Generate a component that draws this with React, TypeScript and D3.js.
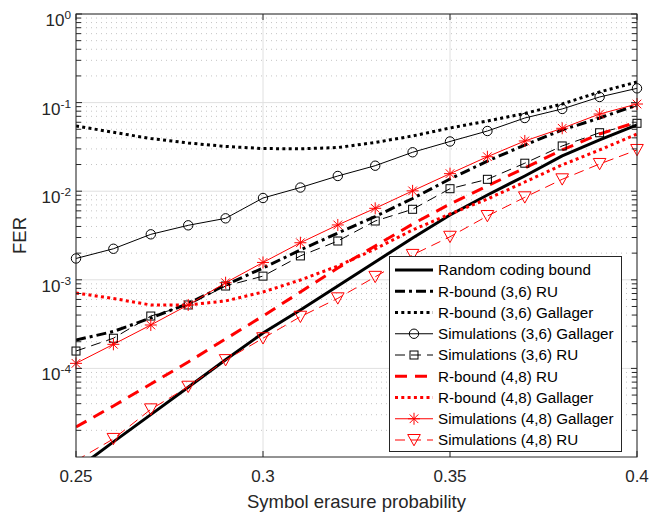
import React from 'react';
import * as d3 from 'd3';

// ---------- data ----------
const xValues = [0.25, 0.26, 0.27, 0.28, 0.29, 0.3, 0.31, 0.32, 0.33, 0.34, 0.35, 0.36, 0.37, 0.38, 0.39, 0.4];

const randomCodingBound = [7.2e-6, 1.48e-5, 3.01e-5, 6.13e-5, 1.25e-4, 2.51e-4, 4.56e-4, 8.5e-4, 1.59e-3, 2.96e-3, 5.38e-3, 9.06e-3, 0.01485, 0.025, 0.0379, 0.0559];
const rBound36RU = [2.09e-4, 2.61e-4, 3.71e-4, 5.4e-4, 8.73e-4, 1.36e-3, 2.17e-3, 3.37e-3, 5.18e-3, 8.27e-3, 0.01374, 0.0219, 0.0332, 0.0491, 0.067, 0.094];
const rBound36Gallager = [0.0545, 0.0462, 0.0393, 0.035, 0.032, 0.0303, 0.0301, 0.0311, 0.0355, 0.042, 0.0517, 0.062, 0.0754, 0.0964, 0.1318, 0.171];
const sim36Gallager = [1.74e-3, 2.24e-3, 3.26e-3, 4.12e-3, 4.94e-3, 8.38e-3, 0.011, 0.01485, 0.0194, 0.0275, 0.0364, 0.0478, 0.067, 0.0848, 0.1157, 0.1449];
const sim36RU = [1.57e-4, 2.19e-4, 3.9e-4, 5.2e-4, 8.51e-4, 1.1e-3, 1.86e-3, 2.74e-3, 4.61e-3, 6.25e-3, 0.01067, 0.01362, 0.0207, 0.0324, 0.0457, 0.0584];
const rBound48RU = [2.18e-5, 3.77e-5, 6.67e-5, 1.18e-4, 2.15e-4, 3.9e-4, 7.28e-4, 1.36e-3, 2.41e-3, 4.26e-3, 7.17e-3, 0.01146, 0.0183, 0.0292, 0.0442, 0.0604];
const rBound48Gallager = [7.1e-4, 6.15e-4, 5.2e-4, 5.2e-4, 5.77e-4, 7.28e-4, 9.95e-4, 1.43e-3, 2.23e-3, 3.65e-3, 5.53e-3, 8.16e-3, 0.0127, 0.0198, 0.0292, 0.0442];
const sim48Gallager = [1.14e-4, 1.87e-4, 3.09e-4, 5.2e-4, 9.27e-4, 1.57e-3, 2.62e-3, 4.16e-3, 6.41e-3, 0.01009, 0.01578, 0.0245, 0.0369, 0.0513, 0.0743, 0.0964];
const sim48RU = [9.1e-6, 1.6e-5, 3.45e-5, 6.21e-5, 1.24e-4, 2.19e-4, 3.83e-4, 6.18e-4, 1.08e-3, 1.91e-3, 3.06e-3, 5.25e-3, 8.53e-3, 0.01362, 0.0203, 0.0292];

const seriesNames = [
  'Random coding bound',
  'R-bound (3,6) RU',
  'R-bound (3,6) Gallager',
  'Simulations (3,6) Gallager',
  'Simulations (3,6) RU',
  'R-bound (4,8) RU',
  'R-bound (4,8) Gallager',
  'Simulations (4,8) Gallager',
  'Simulations (4,8) RU',
];

const xTicks = [0.25, 0.3, 0.35, 0.4];
const xTickLabels = ['0.25', '0.3', '0.35', '0.4'];
const yTickExponents = [-4, -3, -2, -1, 0];
const xLabel = 'Symbol erasure probability';
const yLabel = 'FER';

// ---------- styles ----------
type Marker = 'none' | 'circle' | 'square' | 'star' | 'triangle';
interface Style { color: string; width: number; dash: string | null; marker: Marker; }

const styles: Style[] = [
  { color: '#000000', width: 3, dash: null, marker: 'none' },
  { color: '#000000', width: 3, dash: '10,4,3,4', marker: 'none' },
  { color: '#000000', width: 3, dash: '3,3.3', marker: 'none' },
  { color: '#000000', width: 1, dash: null, marker: 'circle' },
  { color: '#000000', width: 1, dash: '10,6', marker: 'square' },
  { color: '#ff0000', width: 3, dash: '12,8', marker: 'none' },
  { color: '#ff0000', width: 3, dash: '3,3.3', marker: 'none' },
  { color: '#ff0000', width: 1, dash: null, marker: 'star' },
  { color: '#ff0000', width: 1, dash: '10,6', marker: 'triangle' },
];

const seriesValues = [randomCodingBound, rBound36RU, rBound36Gallager, sim36Gallager, sim36RU, rBound48RU, rBound48Gallager, sim48Gallager, sim48RU];

const TEXT = '#262626';
const FONT = '"Liberation Sans", Arial, Helvetica, sans-serif';

function MarkerShape({ type, cx, cy, color }: { type: Marker; cx: number; cy: number; color: string }) {
  const sw = 1;
  if (type === 'circle') return <circle cx={cx} cy={cy} r={4.7} fill="none" stroke={color} strokeWidth={sw} />;
  if (type === 'square') return <rect x={cx - 4} y={cy - 4} width={8} height={8} fill="none" stroke={color} strokeWidth={sw} />;
  if (type === 'triangle') {
    const p = `${cx - 6.3},${cy - 5.5} ${cx + 6.3},${cy - 5.5} ${cx},${cy + 5.8}`;
    return <polygon points={p} fill="none" stroke={color} strokeWidth={sw} />;
  }
  if (type === 'star') {
    const r = 6, d = r * 0.72;
    return (
      <g stroke={color} strokeWidth={sw}>
        <line x1={cx} y1={cy - r} x2={cx} y2={cy + r} />
        <line x1={cx - r} y1={cy} x2={cx + r} y2={cy} />
        <line x1={cx - d} y1={cy - d} x2={cx + d} y2={cy + d} />
        <line x1={cx - d} y1={cy + d} x2={cx + d} y2={cy - d} />
      </g>
    );
  }
  return null;
}

export default function App() {
  const W = 649, H = 512;
  const L = 76, R = 637, T = 14, B = 457;
  const x = d3.scaleLinear().domain([0.25, 0.4]).range([L, R]);
  const y = d3.scaleLog().domain([1e-5, 1]).range([B, T]);

  const minorVals: number[] = [];
  for (let e = -5; e < 0; e++) for (let k = 2; k <= 9; k++) minorVals.push(k * Math.pow(10, e));

  const line = d3.line<number>().x((_, i) => x(xValues[i])).y((d) => y(d));

  const legendX = 389.5, legendY = 256.5, legendW = 232, legendH = 195;
  const rowH = 21.25, row0 = 270;
  const sx1 = 395, sx2 = 433, tx = 438;

  return (
    <svg width={W} height={H} style={{ position: 'absolute', left: 0, top: 0, background: '#fff' }} fontFamily={FONT}>
      <rect x={0} y={0} width={W} height={H} fill="#fff" />
      <defs>
        <clipPath id="plotClip"><rect x={L} y={T} width={R - L} height={B - T} /></clipPath>
      </defs>
      {/* minor grid */}
      {minorVals.map((v, i) => (
        <line key={'mg' + i} x1={L} x2={R} y1={y(v)} y2={y(v)} stroke="#c4c4c4" strokeWidth={1} strokeDasharray="1,4" />
      ))}
      {/* major grid */}
      {yTickExponents.map((e) => (
        <line key={'yg' + e} x1={L} x2={R} y1={y(Math.pow(10, e))} y2={y(Math.pow(10, e))} stroke="#e0e0e0" strokeWidth={1} />
      ))}
      {xTicks.map((t) => (
        <line key={'xg' + t} x1={x(t)} x2={x(t)} y1={T} y2={B} stroke="#e0e0e0" strokeWidth={1} />
      ))}

      {/* series lines */}
      <g clipPath="url(#plotClip)">
        {seriesValues.map((vals, si) => (
          <path key={'s' + si} d={line(vals) || ''} fill="none" stroke={styles[si].color} strokeWidth={styles[si].width}
            strokeDasharray={styles[si].dash || undefined} strokeLinejoin="round" />
        ))}
      </g>
      {/* markers */}
      {seriesValues.map((vals, si) => styles[si].marker === 'none' ? null : (
        <g key={'m' + si}>
          {vals.map((v, i) => v >= 1e-5 ? (
            <MarkerShape key={i} type={styles[si].marker} cx={x(xValues[i])} cy={y(v)} color={styles[si].color} />
          ) : null)}
        </g>
      ))}

      {/* axes box */}
      <rect x={L} y={T} width={R - L} height={B - T} fill="none" stroke={TEXT} strokeWidth={1} />
      {/* y ticks */}
      {yTickExponents.map((e) => {
        const yy = y(Math.pow(10, e));
        return (
          <g key={'yt' + e}>
            <line x1={L} x2={L + 6} y1={yy} y2={yy} stroke={TEXT} />
            <line x1={R} x2={R - 6} y1={yy} y2={yy} stroke={TEXT} />
          </g>
        );
      })}
      {minorVals.map((v, i) => (
        <g key={'ym' + i}>
          <line x1={L} x2={L + 5} y1={y(v)} y2={y(v)} stroke={TEXT} />
          <line x1={R} x2={R - 5} y1={y(v)} y2={y(v)} stroke={TEXT} />
        </g>
      ))}
      {/* x ticks */}
      {xTicks.map((t) => (
        <g key={'xt' + t}>
          <line x1={x(t)} x2={x(t)} y1={B} y2={B - 6} stroke={TEXT} />
          <line x1={x(t)} x2={x(t)} y1={T} y2={T + 6} stroke={TEXT} />
        </g>
      ))}
      {/* tick labels */}
      {xTicks.map((t, i) => (
        <text key={'xl' + t} x={x(t)} y={482} textAnchor="middle" fontSize={17} fill={TEXT}>{xTickLabels[i]}</text>
      ))}
      {yTickExponents.map((e) => (
        <text key={'yl' + e} x={71} y={y(Math.pow(10, e)) + 12} textAnchor="end" fontSize={17} fill={TEXT}>
          10<tspan dy={-7} fontSize={11.8}>{String(e)}</tspan>
        </text>
      ))}
      {/* axis labels */}
      <text x={(L + R) / 2} y={508} textAnchor="middle" fontSize={18.5} fill={TEXT}>{xLabel}</text>
      <text transform={`translate(26,${(T + B) / 2}) rotate(-90)`} textAnchor="middle" fontSize={18.5} fill={TEXT}>{yLabel}</text>

      {/* legend */}
      <rect x={legendX} y={legendY} width={legendW} height={legendH} fill="#fff" stroke={TEXT} strokeWidth={1} />
      {seriesNames.map((name, i) => {
        const cy = row0 + i * rowH;
        const st = styles[i];
        return (
          <g key={'lg' + i}>
            <line x1={sx1} x2={sx2} y1={cy} y2={cy} stroke={st.color} strokeWidth={st.width} strokeDasharray={st.dash || undefined} />
            {st.marker !== 'none' && <MarkerShape type={st.marker} cx={(sx1 + sx2) / 2} cy={cy} color={st.color} />}
            <text x={tx} y={cy} dy="0.36em" fontSize={15.2} fill="#000">{name}</text>
          </g>
        );
      })}
    </svg>
  );
}
